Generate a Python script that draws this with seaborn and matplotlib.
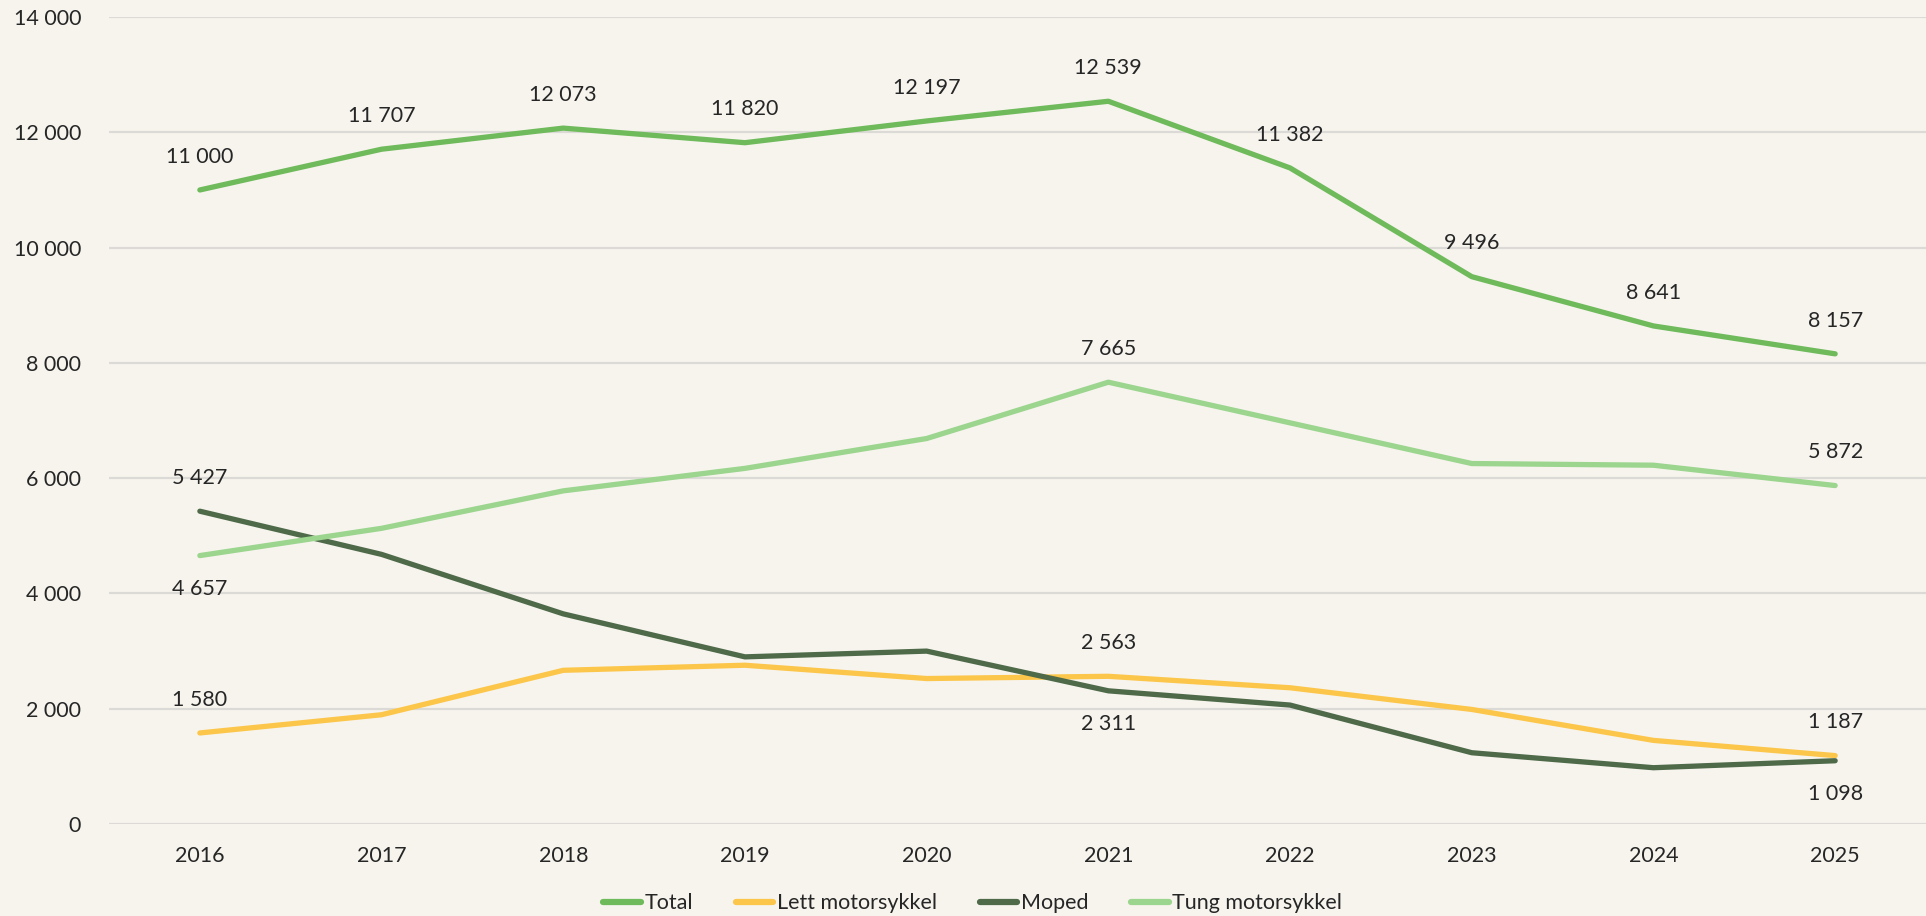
import matplotlib
matplotlib.use("Agg")
import matplotlib.pyplot as plt
import seaborn as sns
import pandas as pd
from matplotlib.ticker import FuncFormatter
from matplotlib.lines import Line2D

years = ["2016", "2017", "2018", "2019", "2020", "2021", "2022", "2023", "2024", "2025"]
total = [11000, 11707, 12073, 11820, 12197, 12539, 11382, 9496, 8641, 8157]
lett = [1580, 1896, 2667, 2755, 2524, 2563, 2364, 1988, 1451, 1187]
moped = [5427, 4678, 3646, 2900, 3000, 2311, 2064, 1237, 977, 1098]
tung = [4657, 5130, 5780, 6170, 6688, 7665, 6960, 6254, 6225, 5872]

series_names = ["Total", "Lett motorsykkel", "Moped", "Tung motorsykkel"]
series_values = [total, lett, moped, tung]
colors = ["#6FBA5B", "#FCC64B", "#4E6A49", "#9BD58E"]
# which points are labelled and whether above (+1) or below (-1)
label_idx = {
    "Total": {i: 1 for i in range(10)},
    "Lett motorsykkel": {0: 1, 5: 1, 9: 1},
    "Moped": {0: 1, 5: -1, 9: -1},
    "Tung motorsykkel": {0: -1, 5: 1, 9: 1},
}

rows = []
for name, vals in zip(series_names, series_values):
    for y, v in zip(years, vals):
        rows.append({"Year": y, "Value": v, "Series": name})
df = pd.DataFrame(rows)

bg = "#F7F4EE"
sns.set_theme(style="white")
plt.rcParams["font.family"] = ["Lato", "DejaVu Sans"]
plt.rcParams["text.color"] = "#262626"

fig = plt.figure(figsize=(19.26, 9.16), dpi=100, facecolor=bg)
ax = fig.add_axes([0.0566, 0.1004, 0.9434, 0.881])
ax.set_facecolor(bg)

sns.lineplot(data=df, x="Year", y="Value", hue="Series", hue_order=series_names,
             palette=colors, linewidth=3.8, ax=ax, legend=False, sort=False)
for ln in ax.lines:
    ln.set_solid_capstyle("round")
    ln.set_solid_joinstyle("round")

ax.set_ylim(0, 14000)
ax.set_xlim(-0.5, 9.5)
ax.set_yticks(range(0, 14001, 2000))
fmt = lambda v, p: f"{int(v):,}".replace(",", " ")
ax.yaxis.set_major_formatter(FuncFormatter(fmt))
ax.grid(axis="y", color="#DCDAD6", linewidth=1.6)
ax.set_axisbelow(True)
for s in ax.spines.values():
    s.set_visible(False)
ax.tick_params(axis="y", length=0, pad=20, labelsize=15.5, labelcolor="#262626")
ax.tick_params(axis="x", length=0, pad=16, labelsize=15.5, labelcolor="#262626")
ax.set_xlabel("")
ax.set_ylabel("")

for name, vals in zip(series_names, series_values):
    for i, direction in label_idx[name].items():
        ax.annotate(fmt(vals[i], None), (i, vals[i]), xytext=(0, 24 * direction),
                    textcoords="offset points", ha="center", va="center",
                    fontsize=15.5, color="#262626")

handles = [Line2D([0], [0], color=c, linewidth=4.5, solid_capstyle="round") for c in colors]
fig.legend(handles, series_names, loc="center", bbox_to_anchor=(0.505, 0.014), ncol=4,
           frameon=False, fontsize=15.5, handlelength=1.75, handletextpad=0.15,
           columnspacing=2.0)

fig.savefig("out.png", dpi=100, facecolor=bg)
